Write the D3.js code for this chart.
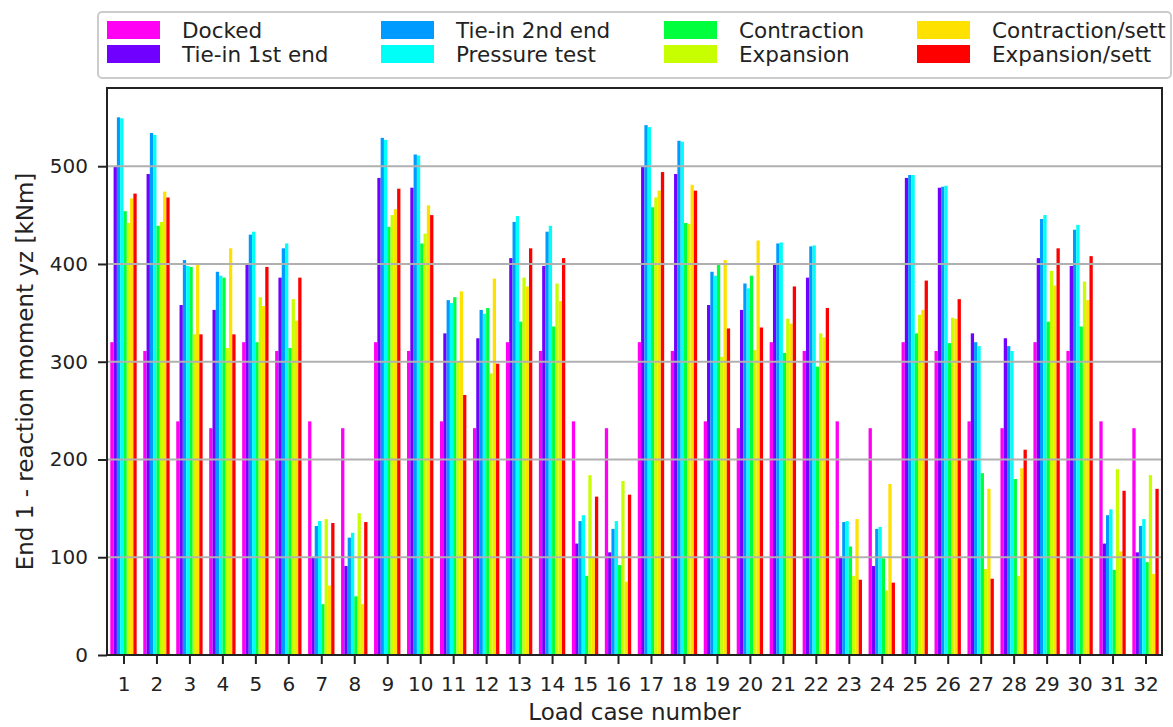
<!DOCTYPE html>
<html>
<head>
<meta charset="utf-8">
<script src="https://cdn.jsdelivr.net/npm/d3@7"></script>
<style>
  body { margin: 0; background: #fff; }
  svg { display: block; font-family: "DejaVu Sans", sans-serif; }
</style>
</head>
<body>
<svg id="chart" width="1173" height="727"></svg>
<script>
// load cases 1..32
var categories = d3.range(1, 33);
var yTicks = [0, 100, 200, 300, 400, 500];

var docked = [320,311,239,232,320,311,239,232, 320,311,239,232,320,311,239,232,
              320,311,239,232,320,311,239,232, 320,311,239,232,320,311,239,232];
var tieIn1 = [500,492,358,353,400,386,100,91, 488,478,329,324,406,398,114,105,
              500,492,358,353,400,386,100,91, 488,478,329,324,406,398,114,105];
var tieIn2 = [550,534,404,392,430,416,132,120, 529,512,363,353,443,433,137,129,
              542,526,392,380,421,418,136,129, 491,479,320,316,446,435,143,132];
var pressureTest = [549,532,398,388,433,421,137,125, 527,511,360,349,449,439,143,137,
                    540,525,388,375,422,419,137,131, 491,480,316,311,450,440,149,139];
var contraction = [454,439,397,386,320,314,52,60, 438,421,366,355,341,336,81,92,
                   458,442,400,388,309,295,111,99, 329,319,186,180,341,336,87,95];
var expansion = [442,443,328,314,366,364,139,145, 450,431,300,288,386,380,184,178,
                 468,441,305,312,344,329,81,66, 348,345,88,81,393,382,190,184];
var contractionSett = [467,474,399,416,357,342,71,52, 456,460,372,385,377,362,100,75,
                       475,481,404,424,339,325,139,175, 353,344,170,191,378,363,106,83];
var expansionSett = [472,468,328,328,397,386,135,136, 477,450,266,298,416,406,162,164,
                     494,475,334,335,377,355,77,74, 383,364,78,210,416,408,168,170];

var seriesNames = ["Docked", "Tie-in 1st end", "Tie-in 2nd end", "Pressure test",
                   "Contraction", "Expansion", "Contraction/sett", "Expansion/sett"];
var seriesValues = [docked, tieIn1, tieIn2, pressureTest, contraction, expansion,
                    contractionSett, expansionSett];
var colors = ["#ff00f4", "#7000ff", "#009bff", "#00fff6",
              "#00ff3c", "#c8ff00", "#ffe100", "#ff0000"];

var series = seriesNames.map((name, i) => ({name: name, color: colors[i], values: seriesValues[i]}));

// plot box (don't call it "top": window.top is read-only)
var plotL = 107, plotR = 1162, plotT = 88, plotB = 655;
var barW = 0.1;

var svg = d3.select('#chart');

var x = d3.scaleLinear().domain([0.5, 32.5]).range([plotL, plotR]);
var y = d3.scaleLinear().domain([0, 580]).range([plotB, plotT]);

// bars
series.forEach((s, i) => {
    svg.append('g')
        .selectAll('rect')
        .data(s.values)
        .enter()
        .append('rect')
        .attr('x', (d, j) => x(categories[j] - 0.4 + i * barW))
        .attr('width', x(barW) - x(0))
        .attr('y', d => y(d))
        .attr('height', d => y(0) - y(d))
        .attr('fill', s.color);
});

// grid on top of bars, like matplotlib
svg.append('g')
    .selectAll('line')
    .data(yTicks)
    .enter()
    .append('line')
    .attr('x1', plotL).attr('x2', plotR)
    .attr('y1', d => y(d)).attr('y2', d => y(d))
    .attr('stroke', '#b0b0b0')
    .attr('stroke-width', 2);

var xAxis = svg.append('g')
    .attr('transform', `translate(0,${plotB})`)
    .call(d3.axisBottom(x).tickValues(categories).tickFormat(d3.format('d'))
        .tickSize(9).tickPadding(13));

var yAxis = svg.append('g')
    .attr('transform', `translate(${plotL},0)`)
    .call(d3.axisLeft(y).tickValues(yTicks).tickSize(9).tickPadding(10));

[xAxis, yAxis].forEach(a => {
    a.select('.domain').remove();
    a.selectAll('.tick line').attr('stroke', '#222').attr('stroke-width', 2);
    a.selectAll('.tick text')
        .attr('fill', '#222')
        .style('font-size', '20px')
        .style('font-family', '"DejaVu Sans", sans-serif');
});

// frame
svg.append('rect')
    .attr('x', plotL).attr('y', plotT)
    .attr('width', plotR - plotL).attr('height', plotB - plotT)
    .attr('fill', 'none')
    .attr('stroke', '#222')
    .attr('stroke-width', 2);

svg.append('text')
    .attr('x', (plotL + plotR) / 2)
    .attr('y', 720)
    .attr('text-anchor', 'middle')
    .attr('fill', '#222')
    .style('font-size', '23px')
    .text('Load case number');

svg.append('text')
    .attr('transform', `translate(33,${(plotT + plotB) / 2}) rotate(-90)`)
    .attr('text-anchor', 'middle')
    .attr('fill', '#222')
    .style('font-size', '23px')
    .text('End 1 - reaction moment yz [kNm]');

// legend
svg.append('rect')
    .attr('x', 98).attr('y', 12)
    .attr('width', 1073).attr('height', 66)
    .attr('rx', 4)
    .attr('fill', '#fff')
    .attr('stroke', '#cccccc')
    .attr('stroke-width', 2);

var colX = [107, 381, 664, 917];
var rowY = [30, 54];

let items = svg.append('g')
    .selectAll('g')
    .data(series)
    .enter()
    .append('g')
    .attr('transform', (d, i) => `translate(${colX[Math.floor(i / 2)]},${rowY[i % 2]})`);

items.append('rect')
    .attr('x', 0).attr('y', -9)
    .attr('width', 53).attr('height', 18)
    .attr('fill', d => d.color);

items.append('text')
    .attr('x', 75)
    .attr('y', 8)
    .attr('fill', '#222')
    .style('font-size', '21.5px')
    .text(d => d.name);
</script>
</body>
</html>
